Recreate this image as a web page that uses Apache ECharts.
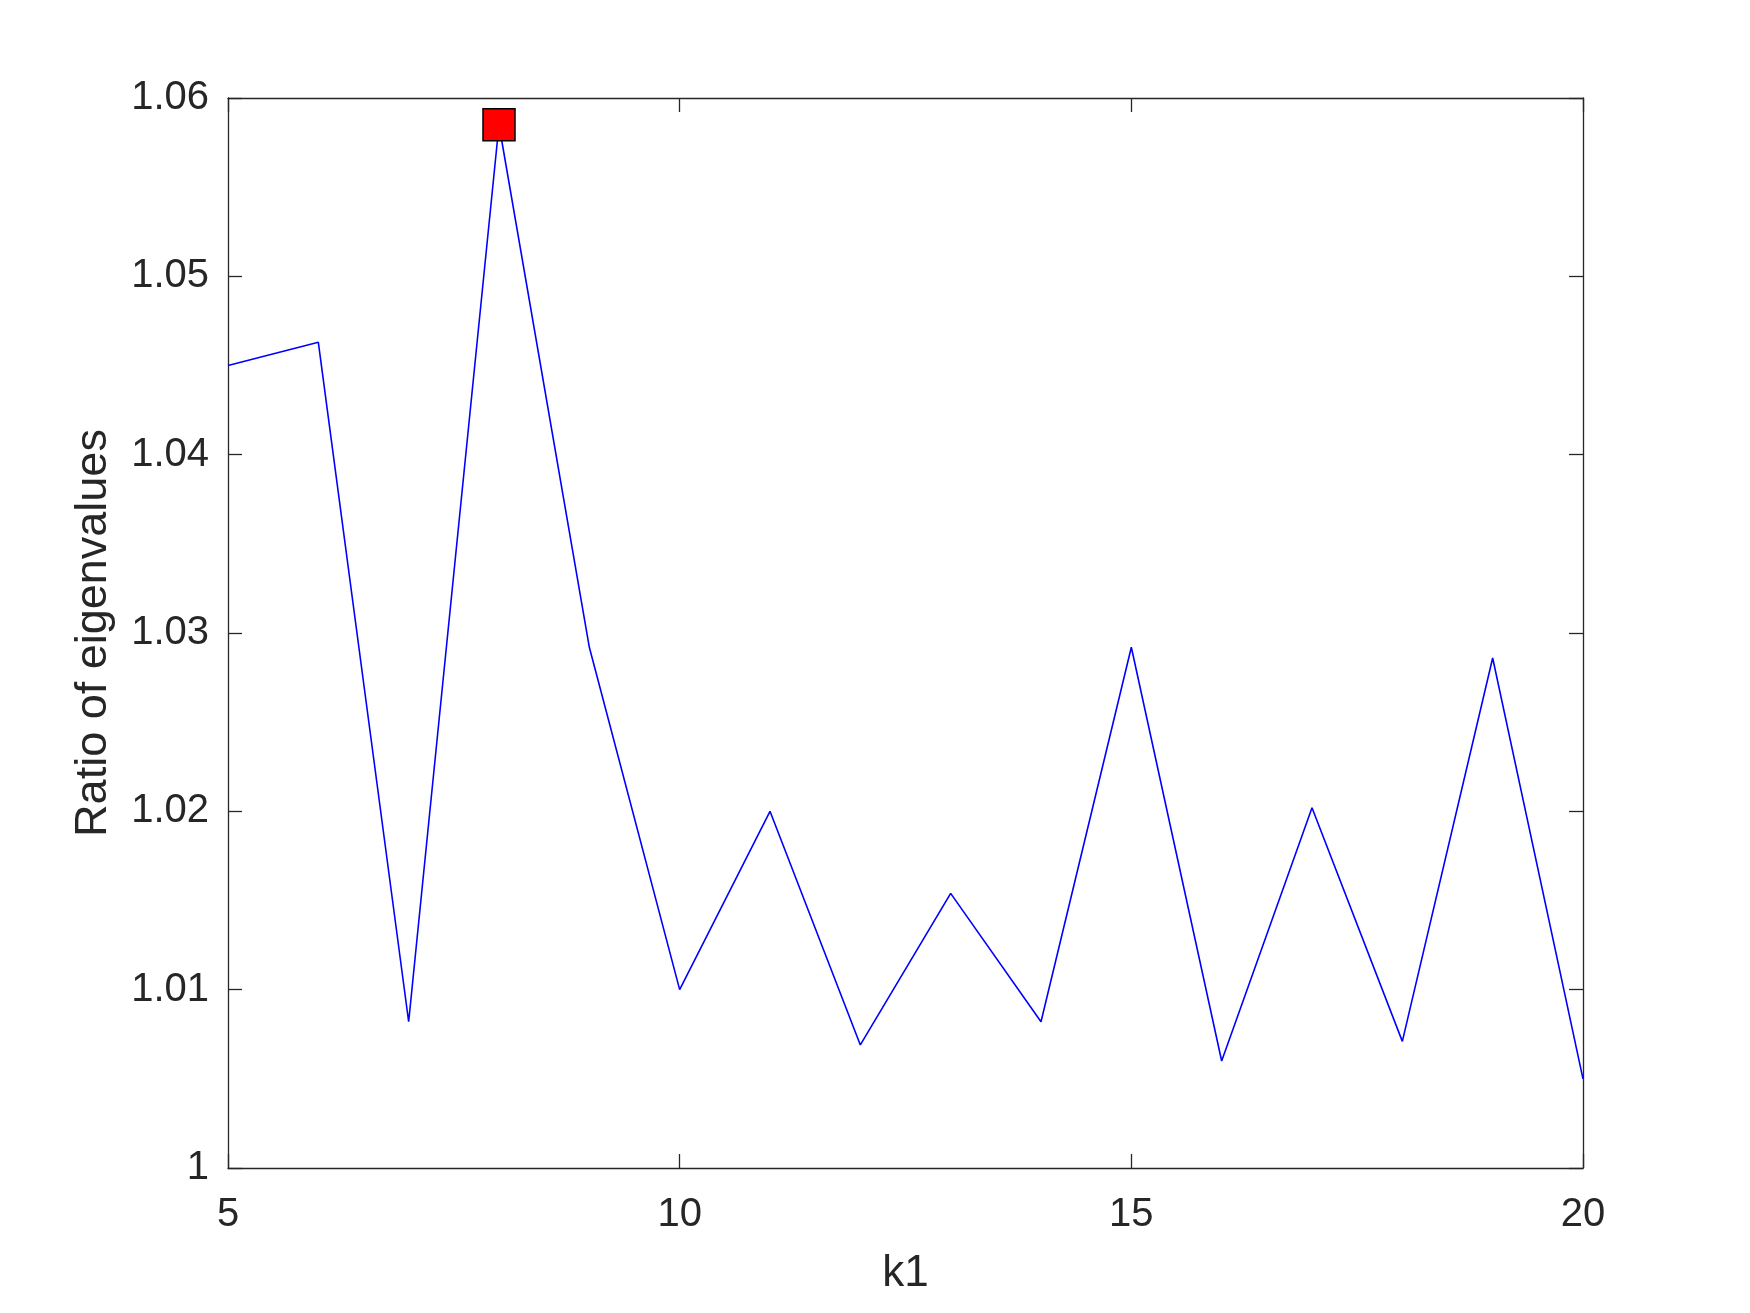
<!DOCTYPE html>
<html>
<head>
<meta charset="utf-8">
<script src="https://cdn.jsdelivr.net/npm/echarts@6/dist/echarts.min.js"></script>
<style>html,body{margin:0;padding:0;background:#fff;}#c{width:1750px;height:1313px;}</style>
</head>
<body>
<div id="c"></div>
<script>
const k1 = [5, 6, 7, 8, 9, 10, 11, 12, 13, 14, 15, 16, 17, 18, 19, 20];
const ratio = [1.0450, 1.0463, 1.0082, 1.0585, 1.0292, 1.0100, 1.0200, 1.0069, 1.0154, 1.0082, 1.0292, 1.0060, 1.0202, 1.0071, 1.0286, 1.0050];
const peakK = 8;
const peakValue = 1.0585;
const xTicks = [5, 10, 15, 20];
const yTicks = [1, 1.01, 1.02, 1.03, 1.04, 1.05, 1.06];

const axisColor = '#262626';
const font = '"Liberation Sans", Arial, Helvetica, sans-serif';

const chart = echarts.init(document.getElementById('c'), null, {renderer: 'canvas'});
const common = {
  axisLine: {show: true, lineStyle: {color: axisColor, width: 1.3}},
  axisTick: {show: true, inside: true, length: 14, lineStyle: {color: axisColor, width: 1.3}},
  splitLine: {show: false}
};
chart.setOption({
  backgroundColor: '#fff',
  animation: false,
  grid: {left: 228, right: 167, top: 98, bottom: 145, containLabel: false},
  xAxis: [
    Object.assign({
      type: 'value', min: 5, max: 20, interval: 5, position: 'bottom',
      name: 'k1', nameLocation: 'middle', nameGap: 84,
      nameTextStyle: {color: axisColor, fontSize: 44, fontFamily: font},
      axisLabel: {color: axisColor, fontSize: 40, fontFamily: font, margin: 27,
        formatter: v => xTicks.includes(v) ? String(v) : ''}
    }, common),
    Object.assign({
      type: 'value', min: 5, max: 20, interval: 5, position: 'top',
      axisLabel: {show: false}
    }, common)
  ],
  yAxis: [
    Object.assign({
      type: 'value', min: 1, max: 1.06, interval: 0.01, position: 'left',
      name: 'Ratio of eigenvalues', nameLocation: 'middle', nameGap: 112, nameRotate: 90,
      nameTextStyle: {color: axisColor, fontSize: 45, fontFamily: font},
      axisLabel: {color: axisColor, fontSize: 40, fontFamily: font, margin: 19,
        formatter: v => {
          const r = +(+v).toFixed(2);
          return yTicks.some(t => Math.abs(t - r) < 1e-9) ? String(r) : '';
        }}
    }, common),
    Object.assign({
      type: 'value', min: 1, max: 1.06, interval: 0.01, position: 'right',
      axisLabel: {show: false}
    }, common)
  ],
  series: [
    {
      type: 'line',
      data: k1.map((k, i) => [k, ratio[i]]),
      showSymbol: false,
      symbol: 'none',
      lineStyle: {color: '#0000ff', width: 1.6},
      z: 2
    },
    {
      type: 'scatter',
      data: [[peakK, peakValue]],
      symbol: 'rect',
      symbolSize: 32,
      itemStyle: {color: '#ff0000', borderColor: '#000000', borderWidth: 1.5, opacity: 1},
      z: 3
    }
  ]
});
</script>
</body>
</html>
